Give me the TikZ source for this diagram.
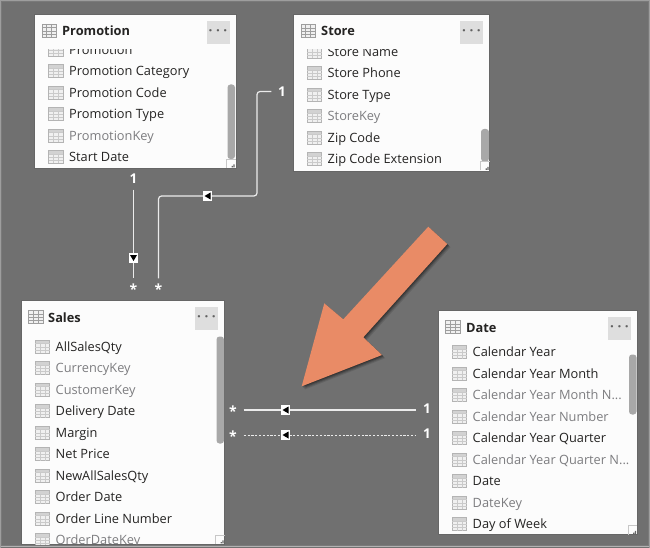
\documentclass[tikz,border=0pt]{standalone}
\usepackage{fontspec}
\setmainfont{Open Sans}
\definecolor{bgc}{HTML}{707070}
\definecolor{txt}{HTML}{252423}
\definecolor{hid}{HTML}{7D7D80}
\definecolor{ico}{HTML}{B4B4B4}
\definecolor{icf}{HTML}{F0F0F0}
\definecolor{btn}{HTML}{DEDEDE}
\definecolor{scr}{HTML}{A8A8A8}
\definecolor{orng}{HTML}{E98B66}
\tikzset{
  tablebox/.style={rectangle,fill=white!99!black,draw=black!60,line width=.7pt,anchor=north west,inner sep=0pt},
  fieldtext/.style={anchor=base west,inner sep=0pt,text=txt,font=\fontsize{12.8}{15}\selectfont},
  hiddentext/.style={fieldtext,text=hid},
  titletext/.style={anchor=base west,inner sep=0pt,text=txt,font=\bfseries\fontsize{12.8}{15}\selectfont},
  dotsbtn/.style={rectangle,fill=btn,minimum width=23pt,minimum height=23pt,inner sep=0pt,text=black!62,font=\bfseries\fontsize{13.5}{14}\selectfont},
  onelabel/.style={inner sep=0pt,minimum size=21pt,text=white,font=\bfseries\fontsize{13.5}{15}\selectfont},
  manylabel/.style={inner sep=0pt,minimum size=21pt,text=white,font=\bfseries\fontsize{14}{16}\selectfont},
  relline/.style={draw=white!92!black,line width=1.2pt,rounded corners=3pt},
  reldash/.style={relline,line width=1pt,dash pattern=on 2.2pt off 1.6pt},
  markl/.style={rectangle,fill=white,inner sep=0pt,minimum size=9.5pt,
    path picture={\fill[black] ([shift={(-3pt,0pt)}]path picture bounding box.center) -- ++(6pt,-3.5pt) -- ++(0pt,7pt) -- cycle;}},
  markd/.style={rectangle,fill=white,inner sep=0pt,minimum size=9.5pt,
    path picture={\fill[black] ([shift={(0pt,-3pt)}]path picture bounding box.center) -- ++(-3.5pt,6pt) -- ++(7pt,0pt) -- cycle;}},
}
% icons: left x, centre y
\newcommand{\fieldicon}[2]{%
  \begin{scope}[shift={(#1,#2)}]
    \fill[icf] (0,-6.5) rectangle (14.5,6.5);
    \fill[ico!60!white] (0,-6.5) rectangle (14.5,-3);
    \draw[ico,line width=.8pt] (0,-6.5) rectangle (14.5,6.5);
    \draw[ico!70!white,line width=.6pt] (5,-3) -- (5,6.5) (10,-3) -- (10,6.5) (0,-3) -- (14.5,-3) (0,.5) -- (14.5,.5) (0,3.5) -- (14.5,3.5);
  \end{scope}}
\newcommand{\headicon}[2]{%
  \begin{scope}[shift={(#1,#2)}]
    \fill[icf] (0,-6.5) rectangle (14.5,6.5);
    \draw[ico!88!black,line width=.9pt] (0,-6.5) rectangle (14.5,6.5);
    \draw[ico!88!black,line width=.7pt] (4.8,-6.5) -- (4.8,6.5) (9.7,-6.5) -- (9.7,6.5) (0,-3) -- (14.5,-3) (0,.5) -- (14.5,.5) (0,3.5) -- (14.5,3.5);
  \end{scope}}
% name, icon x, y, text, style
\newcommand{\fieldrow}[5]{%
  \fieldicon{#2}{#3}
  \node[#5] (#1) at (#2+20.5,#3+4.8) {#4};}
\newcommand{\grip}[2]{%
  \draw[black!22,line width=.6pt] (#1-9,#2) -- (#1-9,#2-9) -- (#1,#2-9);
  \fill[black!60] (#1-2.2,#2-3.6) rectangle +(1.4,1.4) (#1-4,#2-2) rectangle +(1.4,1.4) (#1-2.2,#2-2) rectangle +(1.4,1.4);}
\newcommand{\manymark}{\raisebox{-7pt}{*}}
\newcommand{\threedots}{· · ·}
\begin{document}
\begin{tikzpicture}[x=1pt,y=-1pt]
\useasboundingbox (0,0) rectangle (650,548);
\fill[bgc] (0,0) rectangle (650,548);
\draw[black!52,line width=1pt] (1.5,1.5) rectangle (648.5,545.5);
\draw[white!62!black,line width=.7pt] (0,.4) -- (650,.4) (.4,0) -- (.4,548) (649.6,0) -- (649.6,548);
\draw[white!70!black,line width=1pt] (1,546) -- (649,546);

% Promotion
\node[tablebox,minimum width=201.5pt,minimum height=154pt] (promo) at (34.3,14.3) {};
\headicon{42}{30.5}
\node[titletext] (promoT) at (62,35.5) {Promotion};
\node[dotsbtn] (promoB) at (218,33) {\threedots};
\begin{scope}
\clip (36,49.5) rectangle (226,168);
\fieldrow{p0}{48.5}{49.5}{Promotion}{fieldtext}
\fieldrow{p1}{48.5}{71}{Promotion Category}{fieldtext}
\fieldrow{p2}{48.5}{92.5}{Promotion Code}{fieldtext}
\fieldrow{p3}{48.5}{114}{Promotion Type}{fieldtext}
\fieldrow{p4}{48.5}{135.5}{PromotionKey}{hiddentext}
\fieldrow{p5}{48.5}{157}{Start Date}{fieldtext}
\end{scope}
\fill[scr,rounded corners=3pt] (227.5,84.5) rectangle (235,159);
\grip{235.5}{168}

% Store
\node[tablebox,minimum width=196.5pt,minimum height=157pt] (store) at (292.8,13.8) {};
\headicon{301}{31}
\node[titletext] (storeT) at (321,36) {Store};
\node[dotsbtn] (storeB) at (471.5,32.5) {\threedots};
\begin{scope}
\clip (294,49.5) rectangle (480,170.5);
\fieldrow{s0}{307}{51.5}{Store Name}{fieldtext}
\fieldrow{s1}{307}{73}{Store Phone}{fieldtext}
\fieldrow{s2}{307}{94.5}{Store Type}{fieldtext}
\fieldrow{s3}{307}{116}{StoreKey}{hiddentext}
\fieldrow{s4}{307}{137.5}{Zip Code}{fieldtext}
\fieldrow{s5}{307}{159}{Zip Code Extension}{fieldtext}
\end{scope}
\fill[scr,rounded corners=3pt] (481,129) rectangle (489,161.5);
\grip{489.5}{170.5}

% Sales
\node[tablebox,minimum width=203pt,minimum height=243.5pt] (sales) at (21,300.2) {};
\headicon{28.5}{317}
\node[titletext] (salesT) at (48,322) {Sales};
\node[dotsbtn] (salesB) at (206.5,318.5) {\threedots};
\begin{scope}
\clip (22,335) rectangle (215,544);
\fieldrow{f0}{35}{346.5}{AllSalesQty}{fieldtext}
\fieldrow{f1}{35}{368}{CurrencyKey}{hiddentext}
\fieldrow{f2}{35}{389.5}{CustomerKey}{hiddentext}
\fieldrow{f3}{35}{411}{Delivery Date}{fieldtext}
\fieldrow{f4}{35}{432.5}{Margin}{fieldtext}
\fieldrow{f5}{35}{454}{Net Price}{fieldtext}
\fieldrow{f6}{35}{475.5}{NewAllSalesQty}{fieldtext}
\fieldrow{f7}{35}{497}{Order Date}{fieldtext}
\fieldrow{f8}{35}{518.5}{Order Line Number}{fieldtext}
\fieldrow{f9}{35}{540}{OrderDateKey}{hiddentext}
\end{scope}
\fill[scr,rounded corners=3pt] (216.5,336.5) rectangle (224,443.5);
\grip{224.5}{544}

% Date
\node[tablebox,minimum width=199.5pt,minimum height=224pt] (date) at (437.7,310.4) {};
\headicon{445.5}{327}
\node[titletext] (dateT) at (466,332) {Date};
\node[dotsbtn] (dateB) at (619.5,328.5) {\threedots};
\fieldrow{d0}{452}{352}{Calendar Year}{fieldtext}
\fieldrow{d1}{452}{373.5}{Calendar Year Month}{fieldtext}
\fieldrow{d2}{452}{395}{Calendar Year Month N...}{hiddentext}
\fieldrow{d3}{452}{416.5}{Calendar Year Number}{hiddentext}
\fieldrow{d4}{452}{438}{Calendar Year Quarter}{fieldtext}
\fieldrow{d5}{452}{459.5}{Calendar Year Quarter N...}{hiddentext}
\fieldrow{d6}{452}{481}{Date}{fieldtext}
\fieldrow{d7}{452}{502.5}{DateKey}{hiddentext}
\fieldrow{d8}{452}{524}{Day of Week}{fieldtext}
\fill[scr,rounded corners=3pt] (629,354.5) rectangle (636.5,414.5);
\grip{637}{534.5}

% relationship labels
\node[onelabel] (oneA) at (133.5,179) {1};
\node[manylabel] (manyA) at (133.5,289) {\manymark};
\node[onelabel] (oneB) at (282,91.5) {1};
\node[manylabel] (manyB) at (158.5,289) {\manymark};
\node[onelabel] (oneC) at (427,409) {1};
\node[manylabel] (manyC) at (233,411) {\manymark};
\node[onelabel] (oneD) at (427,434) {1};
\node[manylabel] (manyD) at (233,436) {\manymark};
\coordinate (bendB) at (257,196);

% connectors
\draw[relline] (oneA.south) -- (manyA.north);
\draw[relline] (manyB.north) |- (bendB) |- (oneB.west);
\draw[relline] (manyC.east |- 0,410) -- (oneC.west |- 0,410);
\draw[reldash] (manyD.east |- 0,435) -- (oneD.west |- 0,435);
\node[markd] (mA) at (133.5,258) {};
\node[markl] (mB) at (207.5,196) {};
\node[markl] (mC) at (285.5,410) {};
\node[markl] (mD) at (285.5,435) {};

% big arrow
\foreach \k/\o in {1/.22,2/.18,3/.14,4/.1}{
  \fill[black,opacity=\o,shift={(\k*.8,\k*.8)}] (428.3,226.7) -- (447.3,244) -- (363.3,337.3) -- (382,355) -- (301.7,386.3) -- (324.3,303.3) -- (343.3,319.3) -- cycle;
}
\fill[orng] (428.3,226.7) -- (447.3,244) -- (363.3,337.3) -- (382,355) -- (301.7,386.3) -- (324.3,303.3) -- (343.3,319.3) -- cycle;
\end{tikzpicture}
\end{document}
